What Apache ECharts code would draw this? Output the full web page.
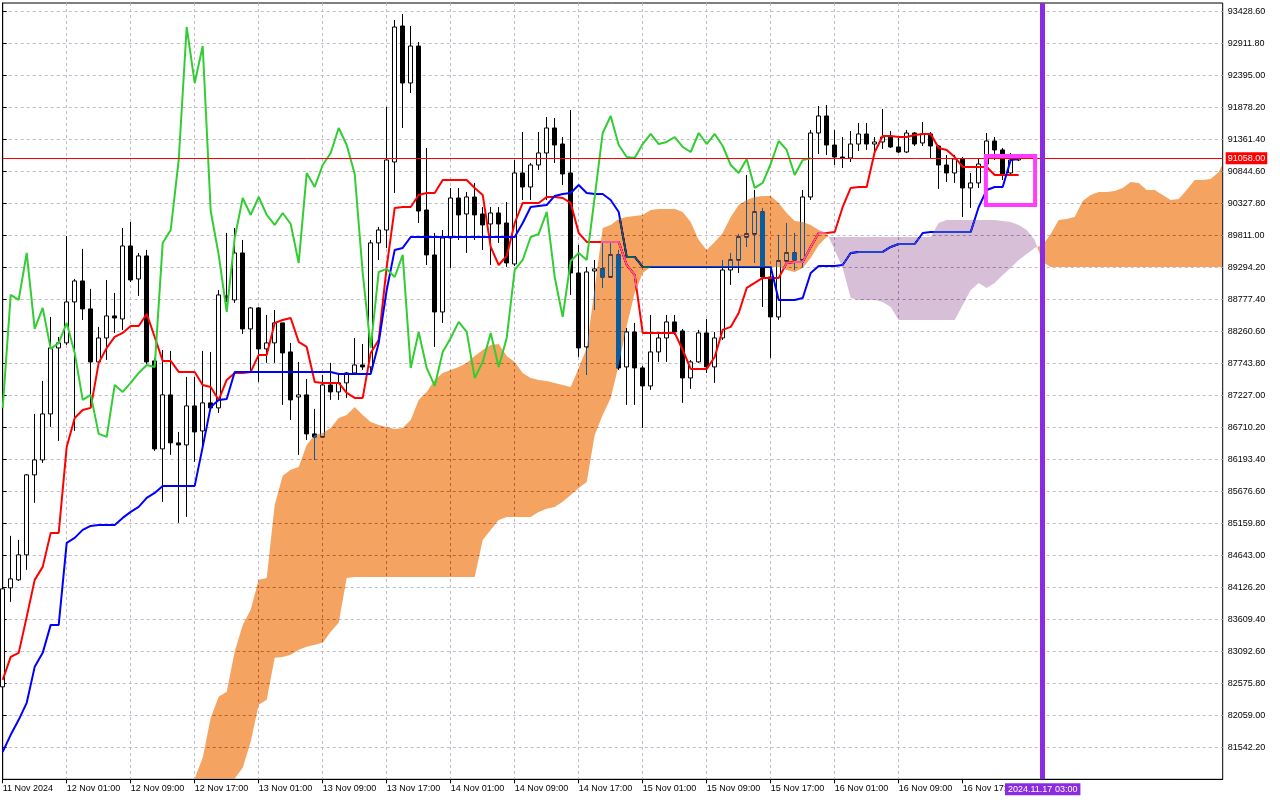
<!DOCTYPE html>
<html><head><meta charset="utf-8">
<script src="https://cdn.jsdelivr.net/npm/echarts@6.0.0/dist/echarts.min.js"></script>
<style>html,body{margin:0;padding:0;background:#fff;}#chart{width:1280px;height:800px;}</style>
</head><body><div id="chart"></div>
<script>
// ---- data (BTC H1, Ichimoku) ----
const openP=[82519,84118,84247,84651,85943,86185,86928,87994,88075,88737,
89076,88624,87768,88155,88511,88462,89641,89108,89480,87784,
86363,87235,86460,86427,87057,86653,87106,87025,88834,88769,
89528,88301,88640,87978,88075,88398,87929,87202,87235,86605,
86556,87396,87283,87429,87590,87719,87687,89690,89899,90998,
93194,92274,92871,90222,89496,88575,89770,90416,90158,90432,
90158,89996,90174,90012,89350,90820,90594,90949,91143,91547,
91288,90820,89205,88010,89237,89270,89140,89496,87687,88252,
87671,87380,87929,88155,88414,88268,87509,87768,88236,87687,
88155,89253,89415,89786,89835,90190,89140,88494,89399,89528,
89415,90432,91466,91741,91272,91078,91062,91288,91450,91288,
91321,91401,91240,91159,91466,91305,91450,91256,90949,90820,
91046,90578,90659,90965,91337,91192,90820,91030];
const closeP=[84102,84263,84651,85943,86185,86928,87994,88075,88737,89076,
88624,87768,88155,88511,88478,89641,89092,89480,87768,86363,
87235,86460,86427,87057,86637,87106,87025,88850,88769,89528,
88301,88640,87978,88075,88398,87913,87154,87235,86605,86556,
87396,87283,87429,87590,87719,87687,89690,89899,91030,93178,
92274,92871,90206,89496,88575,89770,90416,90142,90432,90142,
89980,90174,89996,89367,90820,90594,90949,91143,91547,91272,
90804,89205,87994,89221,89270,89140,89496,87671,88252,87671,
87380,87929,88155,88414,88252,87509,87768,88236,87687,88155,
89253,89415,89786,89835,90190,89140,88494,89399,89528,89415,
90432,91466,91741,91272,91078,91062,91288,91450,91288,91321,
91401,91240,91159,91466,91288,91450,91256,90949,90820,91046,
90578,90659,90965,91337,91192,90788,91030,91058];
const highP=[84166,84958,84893,85959,86928,87461,88494,88171,89803,89108,
89593,88947,88333,89092,88882,89932,90029,89528,89577,87832,
87961,87945,86637,87525,87525,87945,87929,88930,89851,89932,
89738,88656,88656,88527,88607,88398,88075,87768,87493,87009,
87558,87752,87590,87606,88155,88058,89738,89948,91886,93291,
93388,93194,92936,91224,89851,89899,90578,90578,90513,90659,
90271,90271,90271,90352,91030,91482,90982,91482,91724,91708,
91401,91838,89657,89302,89415,89706,89706,89577,88317,88398,
87703,88527,88220,88527,88527,88301,87800,88285,88462,88252,
89415,89528,89835,90788,90546,90255,89253,89819,90012,89851,
90546,91515,91902,91918,91515,91401,91498,91628,91628,91401,
91854,91498,91401,91515,91482,91644,91482,91272,91111,91111,
91078,90820,91062,91466,91401,91224,91143,91095];
const lowP=[82470,83892,84231,84409,85491,86137,86718,86492,88042,86653,
88446,87041,87687,87800,88236,88285,89060,88834,87735,86330,
85507,86266,85168,85264,86153,86395,86992,86944,88737,88721,
88220,87606,87445,87752,87752,87073,86831,86266,86508,86185,
86540,87154,87154,87186,87558,87639,87558,89415,89609,90497,
91547,92112,90012,89334,88010,88398,89286,89738,89528,89738,
89577,89334,89690,89302,89318,90384,90384,90869,90384,90982,
90626,88850,87848,87558,88607,88963,89124,87639,87073,87073,
86702,87315,87768,87768,88204,87106,87332,87752,87590,87429,
88123,89011,89205,89625,89367,88656,87832,88446,89367,89253,
89302,90384,91127,91111,90949,90901,90998,91175,91192,91143,
91208,91224,91143,91143,91256,91256,91062,90562,90675,90659,
90109,90255,90578,90949,91030,90707,90772,91014];
const tenkan=[82632,83003,83068,83649,84247,84457,85006,85006,86395,86863,
86992,87025,87752,87994,88171,88236,88349,88349,88543,88171,
87784,87784,87606,87606,87606,87396,87364,87154,87477,87590,
87590,87606,87881,87881,88398,88446,88478,88091,88010,87445,
87429,87429,87429,87267,87186,87186,87913,88123,89302,90255,
90271,90271,90465,90497,90497,90707,90707,90707,90707,90578,
90465,89625,89334,89480,90012,90336,90336,90336,90432,90432,
90416,90336,89851,89706,89706,89706,89706,89706,89334,89173,
88236,88236,88236,88236,88236,87961,87655,87655,87655,87848,
88285,88333,88559,88963,89044,89124,89124,89124,89367,89383,
89383,89625,89851,89851,89867,90271,90578,90594,90594,91159,
91418,91418,91401,91401,91434,91450,91450,91224,91192,91078,
90917,90917,90917,90917,90788,90788,90788,90788];
const kijun=[81469,81744,81986,82261,82842,83068,83520,83520,84845,84925,
85054,85119,85135,85135,85135,85248,85345,85426,85571,85652,
85765,85765,85765,85765,85765,86395,87041,87154,87170,87606,
87606,87606,87606,87606,87606,87606,87606,87606,87606,87606,
87606,87606,87574,87574,87574,87574,87574,88075,88930,89577,
89609,89786,89786,89786,89786,89786,89786,89786,89786,89786,
89786,89786,89786,89786,89786,90012,90271,90287,90303,90449,
90481,90497,90626,90497,90481,90481,90384,90190,89463,89463,
89302,89302,89302,89302,89302,89302,89302,89302,89302,89302,
89302,89302,89302,89302,89302,89302,89302,88769,88769,88769,
88801,89205,89318,89318,89318,89334,89528,89544,89544,89544,
89544,89625,89673,89673,89673,89851,89867,89867,89867,89867,
89867,89867,90271,90546,90594,90594,91030,91046];
const chikou=[87025,88850,88769,89528,88301,88640,87978,88075,88398,87913,
87154,87235,86605,86556,87396,87283,87429,87590,87719,87687,
89690,89899,91030,93178,92274,92871,90206,89496,88575,89770,
90416,90142,90432,90142,89980,90174,89996,89367,90820,90594,
90949,91143,91547,91272,90804,89205,87994,89221,89270,89140,
89496,87671,88252,87671,87380,87929,88155,88414,88252,87509,
87768,88236,87687,88155,89253,89415,89786,89835,90190,89140,
88494,89399,89528,89415,90432,91466,91741,91272,91078,91062,
91288,91450,91288,91321,91401,91240,91159,91466,91288,91450,
91256,90949,90820,91046,90578,90659,90965,91337,91192,90788,
91030,91058];
const spanA=[null,null,null,null,null,null,null,null,null,null,null,null,null,null,null,null,null,null,null,null,null,null,
80371,80694,81033,81372,82018,82357,82438,83084,83520,83763,
84247,84279,85458,85927,86024,86072,86427,86589,86621,86702,
86863,86912,87041,86912,86799,86750,86718,86686,86702,86831,
87154,87283,87477,87590,87639,87687,87752,87865,87961,88042,
88058,87865,87768,87590,87509,87477,87461,87429,87396,87364,
87671,87994,88963,89932,89980,90077,90109,90126,90142,90222,
90239,90239,90239,90190,90029,89738,89577,89706,89851,90109,
90303,90384,90432,90449,90449,90336,90174,90045,90029,89980,
89899,89851,89577,89286,88801,88769,88769,88769,88737,88656,
88446,88446,88446,88446,88446,88446,88446,88446,88688,88930,
89044,88963,89044,89173,89286,89415,89512,89609,89657,89835,
90061,90077,90109,90368,90465,90513,90513,90529,90578,90675,
90659,90546,90546,90465,90384,90400,90546,90707,90707,90723,
90836,90949];
const spanB=[null,null,null,null,null,null,null,null,null,null,null,null,null,null,null,null,null,null,null,null,null,null,
79886,79967,80048,80210,80371,80532,80775,80985,81211,81631,
82228,82309,82987,83003,83036,83117,83165,83197,83230,83407,
83553,84279,84295,84295,84295,84295,84295,84295,84295,84295,
84295,84295,84295,84295,84295,84295,84295,84295,84893,85054,
85216,85264,85264,85264,85264,85345,85394,85426,85507,85620,
85733,85830,86589,86912,87186,87719,88349,88882,89205,89302,
89302,89302,89302,89302,89302,89302,89302,89302,89302,89302,
89302,89302,89302,89302,89302,89302,89253,89221,89286,89447,
89657,89786,89786,89786,89786,89786,89786,89786,89786,89786,
89786,89786,89786,89786,89786,90012,90061,90061,90061,90061,
90061,90061,90061,90045,90029,89980,89899,89738,89383,89302,
89302,89302,89302,89302,89302,89302,89302,89302,89302,89302,
89302,89302,89302,89302,89302,89302,89302,89302,89302,89302,
89302,89302];
const xLabels=['11 Nov 2024','12 Nov 01:00','12 Nov 09:00','12 Nov 17:00','13 Nov 01:00','13 Nov 09:00','13 Nov 17:00','14 Nov 01:00','14 Nov 09:00','14 Nov 17:00','15 Nov 01:00','15 Nov 09:00','15 Nov 17:00','16 Nov 01:00','16 Nov 09:00','16 Nov 17:00'];
const bidPrice=91058;
const markerBar=130, markerText='2024.11.17 03:00';
const boxBars=[122.9,129.05], boxPrices=[91095,90303];

if(openP.length!==128||closeP.length!==128||highP.length!==128||lowP.length!==128||tenkan.length!==128||kijun.length!==128||chikou.length!==102||spanA.length!==154||spanB.length!==154){
  throw new Error('lengths '+[openP.length,closeP.length,highP.length,lowP.length,tenkan.length,kijun.length,chikou.length,spanA.length,spanB.length].join(','));
}

const FONT='Liberation Sans';
const candleData=openP.map((o,i)=>[i,o,closeP[i],lowP[i],highP[i]]);
const pairs=arr=>arr.map((v,i)=>[i,v]);
const labelBars=xLabels.map((_,k)=>k*8);
const gridLine={color:'#c2bacb',type:[3,3],width:1};
const KUMO_UP='#F4A460', KUMO_DN='#D8BFD8';          // SandyBrown / Thistle
const KUMO_UP_INV='#0B5B9F', KUMO_DN_INV='#274027';  // their inverses (used with 'difference')

function cloudRender(params, api){
  const cs=params.coordSys;
  const rect={x:cs.x+0.5,y:cs.y+0.5,width:cs.width-1,height:cs.height-1.2};
  const regions=[]; let cur=null;
  for(let i=0;i<spanA.length;i++){
    const a=spanA[i], b=spanB[i];
    if(a==null||b==null){ if(cur){regions.push(cur);cur=null;} continue; }
    const s=a>=b?1:-1;
    if(!cur){cur={s:s,A:[[i,a]],B:[[i,b]]};continue;}
    if(s===cur.s){cur.A.push([i,a]);cur.B.push([i,b]);continue;}
    const a0=spanA[i-1], b0=spanB[i-1];
    const d0=a0-b0, d1=a-b, t=d0/(d0-d1), xc=i-1+t, yc=a0+(a-a0)*t;
    cur.A.push([xc,yc]); cur.B.push([xc,yc]); regions.push(cur);
    cur={s:s,A:[[xc,yc],[i,a]],B:[[xc,yc],[i,b]]};
  }
  if(cur) regions.push(cur);
  const children=regions.map(r=>{
    const pts=r.A.concat(r.B.slice().reverse()).map(p=>api.coord(p));
    return {type:'polygon',silent:true,name:r.s>0?'kumoUp':'kumoDn',
      shape:{points:echarts.graphic.clipPointsByRect(pts,rect)},
      style:{fill:r.s>0?KUMO_UP:KUMO_DN}};
  });
  return {type:'group',children:children};
}

const chart=echarts.init(document.getElementById('chart'),null,{renderer:'canvas'});
chart.setOption({
  animation:false,
  backgroundColor:'#ffffff',
  grid:{left:2.7,right:57.3,top:3,bottom:20.7,show:true,borderColor:'#000',borderWidth:1,backgroundColor:'#fff',containLabel:false,outerBoundsMode:'none'},
  xAxis:{type:'value',min:0,max:152.5,interval:4,z:3,
    axisLine:{show:true,onZero:false,lineStyle:{color:'#000',width:1}},
    axisTick:{show:true,length:4,lineStyle:{color:'#000'},customValues:labelBars},
    axisLabel:{show:true,customValues:labelBars,color:'#000',fontFamily:FONT,fontSize:9,align:'left',margin:5,
      formatter:v=>{const k=Math.round(v/8);return (Math.abs(v-k*8)<1e-6&&k<xLabels.length)?xLabels[k]:'';}},
    splitLine:{show:true,showMinLine:false,showMaxLine:false,lineStyle:gridLine}},
  yAxis:{type:'value',position:'right',min:81025.4,max:93565.9,interval:516.8,z:3,
    axisLine:{show:true,lineStyle:{color:'#000',width:1}},
    axisTick:{show:true,length:4,lineStyle:{color:'#000'}},
    axisLabel:{color:'#000',fontFamily:FONT,fontSize:9,margin:5,showMinLabel:false,showMaxLabel:false,formatter:v=>v.toFixed(2)},
    splitLine:{show:true,showMinLine:false,showMaxLine:false,lineStyle:gridLine}},
  series:[
    {name:'price',type:'candlestick',data:candleData,encode:{x:0,y:[1,2,3,4]},barWidth:4,z:4,silent:true,
      itemStyle:{color:'#ffffff',color0:'#000000',borderColor:'#000000',borderColor0:'#000000',borderWidth:1}},
    {name:'tenkan',type:'line',data:pairs(tenkan),symbol:'none',lineStyle:{color:'#FF0000',width:2},z:5,silent:true},
    {name:'kijun',type:'line',data:pairs(kijun),symbol:'none',lineStyle:{color:'#0000FF',width:2},z:5,silent:true},
    {name:'kumo',type:'custom',data:[[0,85000]],renderItem:cloudRender,clip:true,z:6,silent:true},
    {name:'chikou',type:'line',data:pairs(chikou),symbol:'none',lineStyle:{color:'#32CD32',width:2},z:7,silent:true,
      markLine:{silent:true,symbol:['none','none'],z:10,data:[
        {yAxis:bidPrice,lineStyle:{color:'#FF0000',width:1,type:'solid'},
          label:{show:true,position:'end',distance:3,formatter:bidPrice.toFixed(2),color:'#fff',backgroundColor:'#FF0000',padding:[2,2,1,2],fontFamily:FONT,fontSize:9}},
        {xAxis:markerBar,lineStyle:{color:'#8A2BE2',width:5,type:'solid'},
          label:{show:true,position:'start',distance:4,formatter:markerText,color:'#fff',backgroundColor:'#8A2BE2',padding:[2,3,1,3],fontFamily:FONT,fontSize:9}}
      ]},
      markArea:{silent:true,z:11,itemStyle:{color:'rgba(0,0,0,0)',borderColor:'#FF3CFF',borderWidth:4},
        data:[[{xAxis:boxBars[0],yAxis:boxPrices[0]},{xAxis:boxBars[1],yAxis:boxPrices[1]}]]}
    }
  ]
});
// Switch the Kumo to MT5's inverting fill (difference blend) so bars/lines inside it change colour.
try{
  const zr=chart.getZr();
  let changed=0;
  zr.storage.getDisplayList(true).forEach(el=>{
    if(el.name==='kumoUp'||el.name==='kumoDn'){
      el.setStyle({fill:el.name==='kumoUp'?KUMO_UP_INV:KUMO_DN_INV,blend:'difference'});
      el.markRedraw(); changed++;
    }
  });
  zr.refreshImmediately();
}catch(e){}
</script>
</body></html>
